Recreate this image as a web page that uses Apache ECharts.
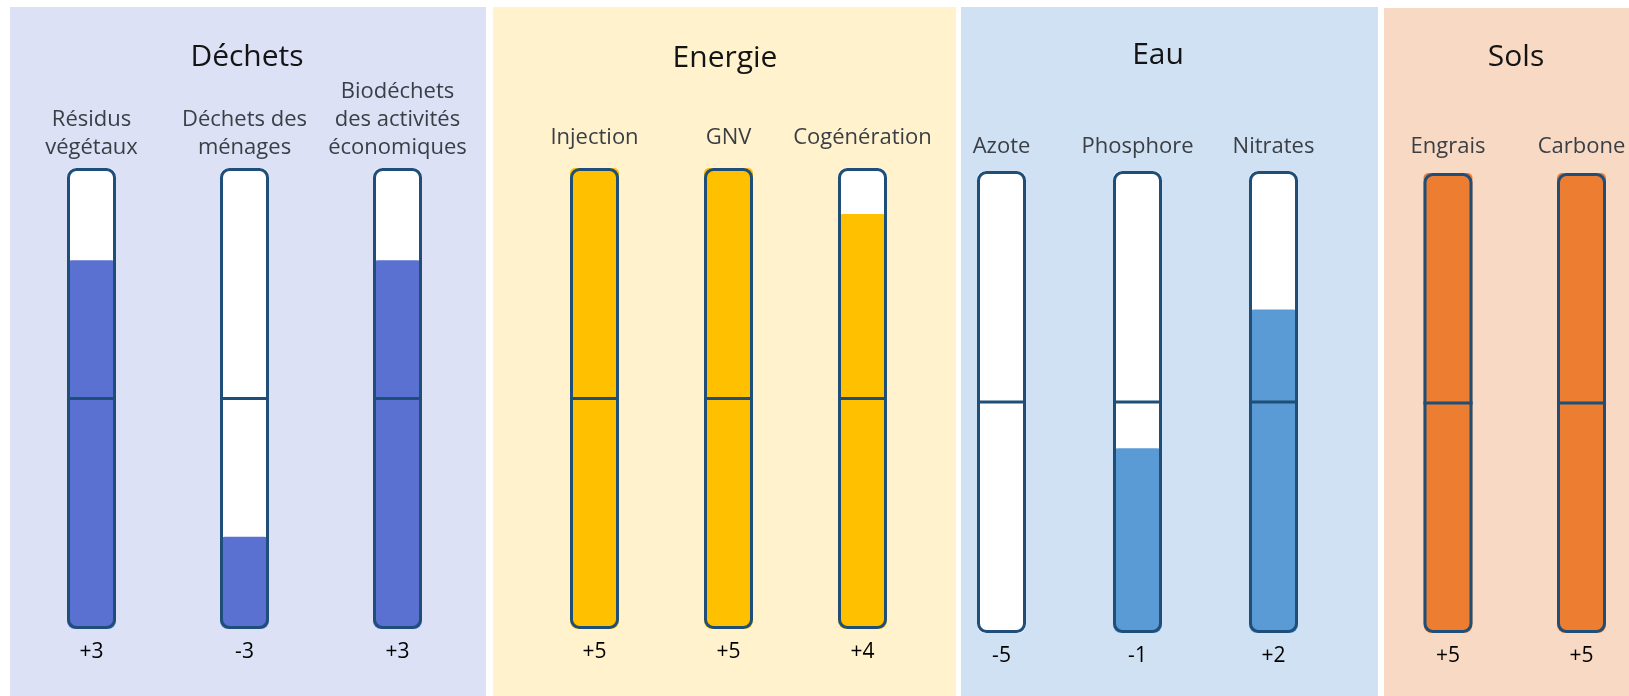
<!DOCTYPE html>
<html>
<head>
<meta charset="utf-8">
<script src="https://cdn.jsdelivr.net/npm/echarts@6/dist/echarts.min.js"></script>
<style>
html,body{margin:0;padding:0;background:#ffffff;}
#chart{width:1629px;height:696px;}
</style>
</head>
<body>
<div id="chart"></div>
<script>
// ---- Data ----
const panelTitles = ['Déchets', 'Energie', 'Eau', 'Sols'];
const dechetsCategories = ['Résidus\nvégétaux', 'Déchets des\nménages', 'Biodéchets\ndes activités\néconomiques'];
const dechetsScores = [3, -3, 3];
const energieCategories = ['Injection', 'GNV', 'Cogénération'];
const energieScores = [5, 5, 4];
const eauCategories = ['Azote', 'Phosphore', 'Nitrates'];
const eauScores = [-5, -1, 2];
const solsCategories = ['Engrais', 'Carbone'];
const solsScores = [5, 5];
const scoreMin = -5;
const scoreMax = 5;

// ---- Styles / layout ----
const FONT = '"Open Sans", "Noto Sans", sans-serif';
const BORDER = '#1F4E79';
const panels = [
  {title: panelTitles[0], cats: dechetsCategories, scores: dechetsScores, fill: '#5B71D2', bg: '#DCE1F5',
   rect: [10, 7, 476, 700], titlePos: [247, 57], grid: {left: 15, top: 168, width: 459, height: 461}, labelMargin: 6, gap: true},
  {title: panelTitles[1], cats: energieCategories, scores: energieScores, fill: '#FFC000', bg: '#FFF2CC',
   rect: [493, 7, 463, 700], titlePos: [725, 58], grid: {left: 527.5, top: 168, width: 402, height: 461}, labelMargin: 16, gap: true},
  {title: panelTitles[2], cats: eauCategories, scores: eauScores, fill: '#5B9BD5', bg: '#CFE1F2',
   rect: [961, 7, 417, 700], titlePos: [1158, 55], grid: {left: 933.5, top: 171, width: 408, height: 462}, labelMargin: 10, gap: true},
  {title: panelTitles[3], cats: solsCategories, scores: solsScores, fill: '#ED7D31', bg: '#F8D9C3',
   rect: [1384, 8, 300, 700], titlePos: [1516, 57], grid: {left: 1448, top: 173, width: 133.5, height: 460}, labelMargin: 12, gap: false}
];

const range = scoreMax - scoreMin;
const fmt = v => (v > 0 ? '+' + v : String(v));

const grids = [], xAxes = [], yAxes = [], series = [], graphics = [];
panels.forEach((p, i) => {
  graphics.push({type: 'rect', z: -10, shape: {x: p.rect[0], y: p.rect[1], width: p.rect[2], height: p.rect[3]},
    style: {fill: p.bg}, silent: true});
  graphics.push({type: 'text', z: 5, x: p.titlePos[0], y: p.titlePos[1],
    style: {text: p.title, font: '30px ' + FONT, fill: '#141414', align: 'center', verticalAlign: 'middle'}, silent: true});
  grids.push(Object.assign({containLabel: false}, p.grid));
  xAxes.push({type: 'category', gridIndex: i, position: 'top', data: p.cats, boundaryGap: p.gap,
    axisLine: {show: false}, axisTick: {show: false}, splitLine: {show: false},
    axisLabel: {interval: 0, margin: p.labelMargin, fontFamily: FONT, fontSize: 22, lineHeight: 28,
      color: '#3A3E45', align: 'center'}});
  yAxes.push({type: 'value', gridIndex: i, min: 0, max: range, show: false});
  const full = p.scores.map(() => range);
  const level = p.scores.map(s => s - scoreMin);
  const mid = p.scores.map(() => (0 - scoreMin));
  series.push({type: 'bar', xAxisIndex: i, yAxisIndex: i, data: full, barWidth: 49, barGap: '-100%', z: 2, clip: false,
    itemStyle: {color: '#FFFFFF', borderRadius: 8}, silent: true});
  series.push({type: 'bar', xAxisIndex: i, yAxisIndex: i, data: level, barWidth: 49, barGap: '-100%', z: 3, clip: false,
    itemStyle: {color: p.fill, borderRadius: [5, 5, 8, 8]}, silent: true});
  series.push({type: 'bar', xAxisIndex: i, yAxisIndex: i, data: full, barWidth: 49, barGap: '-100%', z: 4, clip: false,
    itemStyle: {color: 'rgba(0,0,0,0)', borderColor: BORDER, borderWidth: 3, borderRadius: 8},
    label: {show: true, position: 'bottom', distance: 13, fontFamily: FONT, fontSize: 21, color: '#000000',
      formatter: prm => fmt(p.scores[prm.dataIndex])}, silent: true});
  series.push({type: 'scatter', xAxisIndex: i, yAxisIndex: i, data: mid, symbol: 'rect', symbolSize: [49, 3], z: 5, clip: false,
    itemStyle: {color: BORDER, opacity: 1}, silent: true});
});

const chart = echarts.init(document.getElementById('chart'), null, {renderer: 'canvas'});
chart.setOption({
  backgroundColor: '#FFFFFF',
  animation: false,
  tooltip: {show: false},
  grid: grids,
  xAxis: xAxes,
  yAxis: yAxes,
  series: series,
  graphic: graphics
});
</script>
</body>
</html>
